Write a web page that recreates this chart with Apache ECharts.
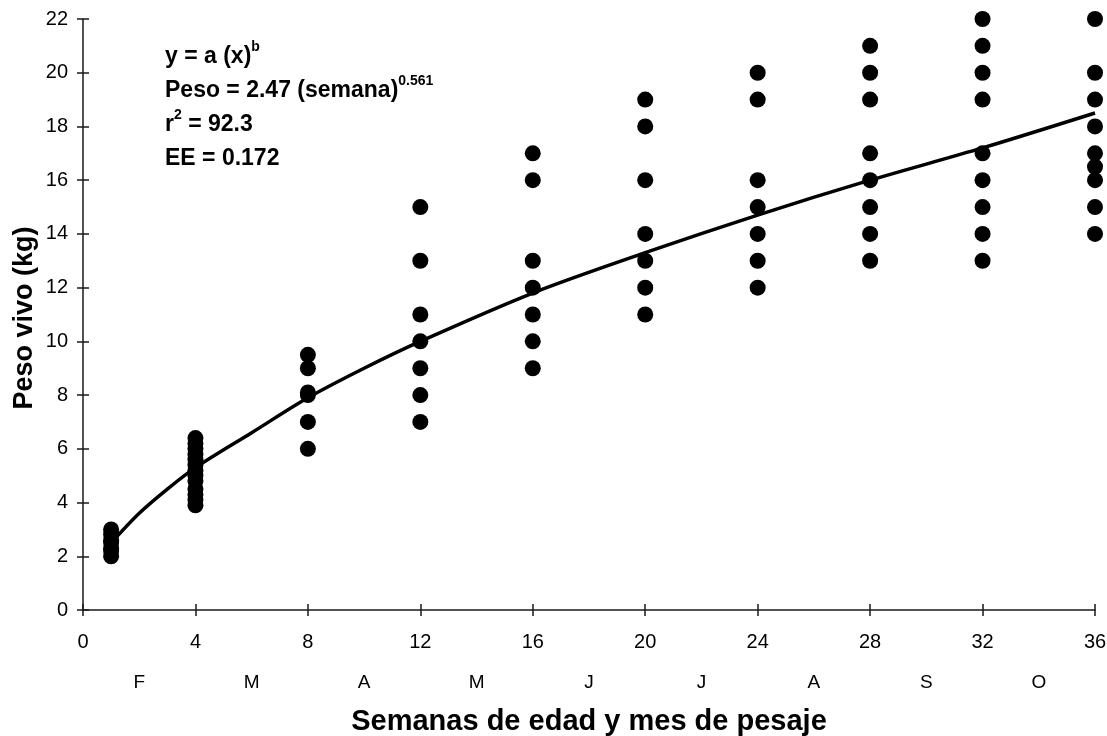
<!DOCTYPE html>
<html>
<head>
<meta charset="utf-8">
<script src="https://cdn.jsdelivr.net/npm/echarts@6/dist/echarts.min.js"></script>
<style>
  html, body { margin: 0; padding: 0; background: #fff; }
  #chart { width: 1107px; height: 736px; }
</style>
</head>
<body>
<div id="chart"></div>
<script>
// weeks of age at weighing
const semanas = [1, 4, 8, 12, 16, 20, 24, 28, 32, 36];
// observed live weights (kg) per weighing
const pesosS1 = [2.0, 2.2, 2.3, 2.5, 2.6, 2.8, 3.0];
const pesosS4 = [3.9, 4.1, 4.3, 4.5, 4.8, 5.0, 5.2, 5.4, 5.6, 5.8, 6.0, 6.2, 6.4];
const pesosS8 = [6, 7, 8, 8.1, 9, 9.5];
const pesosS12 = [7, 8, 9, 10, 11, 13, 15];
const pesosS16 = [9, 10, 11, 12, 13, 16, 17];
const pesosS20 = [11, 12, 13, 14, 16, 18, 19];
const pesosS24 = [12, 13, 14, 15, 16, 19, 20];
const pesosS28 = [13, 14, 15, 16, 17, 19, 20, 21];
const pesosS32 = [13, 14, 15, 16, 17, 19, 20, 21, 22];
const pesosS36 = [14, 15, 16, 16.5, 17, 18, 19, 20, 22];
const pesos = [pesosS1, pesosS4, pesosS8, pesosS12, pesosS16, pesosS20, pesosS24, pesosS28, pesosS32, pesosS36];

// fitted curve
const ajusteSemana = [1, 2, 3, 4, 6, 8, 10, 12, 16, 20, 24, 28, 32, 36];
const ajustePeso = [2.5, 3.6, 4.5, 5.3, 6.6, 7.9, 9.0, 10.0, 11.8, 13.3, 14.7, 16.0, 17.2, 18.5];

// month of weighing, centred between week ticks
const meses = { 2: "F", 6: "M", 10: "A", 14: "M", 18: "J", 22: "J", 26: "A", 30: "S", 34: "O" };

const FONT = "Liberation Sans, Arial, sans-serif";

const puntos = [];
semanas.forEach((s, i) => pesos[i].forEach(p => puntos.push([s, p])));
const curva = ajusteSemana.map((s, i) => [s, ajustePeso[i]]);

const chart = echarts.init(document.getElementById("chart"), null, { renderer: "canvas" });

const lineStyle = { color: "#1a1a1a", width: 1.5 };
const xBase = { type: "value", position: "bottom", min: 0, max: 36, interval: 4, splitLine: { show: false } };
const yBase = { type: "value", position: "left", min: 0, max: 22, interval: 2, splitLine: { show: false } };

chart.setOption({
  animation: false,
  backgroundColor: "#fff",
  grid: { left: 83, right: 12, top: 19, bottom: 126, outerBoundsMode: "none", containLabel: false },
  xAxis: [
    {
      ...xBase,
      axisLine: { lineStyle },
      axisTick: { length: 6, lineStyle },
      axisLabel: { color: "#000", fontFamily: FONT, fontSize: 20, margin: 22 },
      name: "Semanas de edad y mes de pesaje",
      nameLocation: "middle", nameGap: 97,
      nameTextStyle: { color: "#000", fontFamily: FONT, fontSize: 29, fontWeight: "bold" }
    },
    {
      ...xBase,
      axisLine: { show: false },
      axisTick: { inside: true, length: 6, lineStyle },
      axisLabel: { show: false }
    },
    {
      type: "value", position: "bottom", min: 0, max: 36, interval: 2, splitLine: { show: false },
      axisLine: { show: false }, axisTick: { show: false },
      axisLabel: {
        color: "#000", fontFamily: FONT, fontSize: 19, margin: 63,
        formatter: v => meses[v] || ""
      }
    }
  ],
  yAxis: [
    {
      ...yBase,
      axisLine: { show: true, lineStyle },
      axisTick: { show: true, length: 6, lineStyle },
      axisLabel: { color: "#000", fontFamily: FONT, fontSize: 20, margin: 15 }
    },
    {
      ...yBase,
      axisLine: { show: false },
      axisTick: { show: true, inside: true, length: 6, lineStyle },
      axisLabel: { show: false }
    }
  ],
  graphic: [
    {
      type: "text", x: 25, y: 318, rotation: Math.PI / 2,
      style: {
        text: "Peso vivo (kg)", fill: "#000", align: "center", verticalAlign: "middle",
        font: "bold 27px " + FONT
      }
    },
    {
      type: "text", left: 165, top: 40,
      style: {
        text: "{b|y = a (x)}{s|b}\n{b|Peso = 2.47 (semana)}{s|0.561}\n{b|r}{s|2}{b| = 92.3}\n{b|EE = 0.172}",
        fill: "#000",
        rich: {
          b: { fontFamily: FONT, fontSize: 23, fontWeight: "bold", fill: "#000", lineHeight: 34 },
          s: { fontFamily: FONT, fontSize: 14, fontWeight: "bold", fill: "#000", lineHeight: 34, verticalAlign: "top", padding: [0, 0, 12, 0] }
        }
      }
    }
  ],
  series: [
    {
      type: "scatter", xAxisIndex: 0, yAxisIndex: 0, data: puntos,
      symbol: "circle", symbolSize: 16,
      itemStyle: { color: "#000", opacity: 1 }, z: 3
    },
    {
      type: "line", xAxisIndex: 0, yAxisIndex: 0, data: curva,
      smooth: 0.3, showSymbol: false,
      lineStyle: { color: "#000", width: 3.5 }, z: 4
    }
  ]
});
</script>
</body>
</html>
